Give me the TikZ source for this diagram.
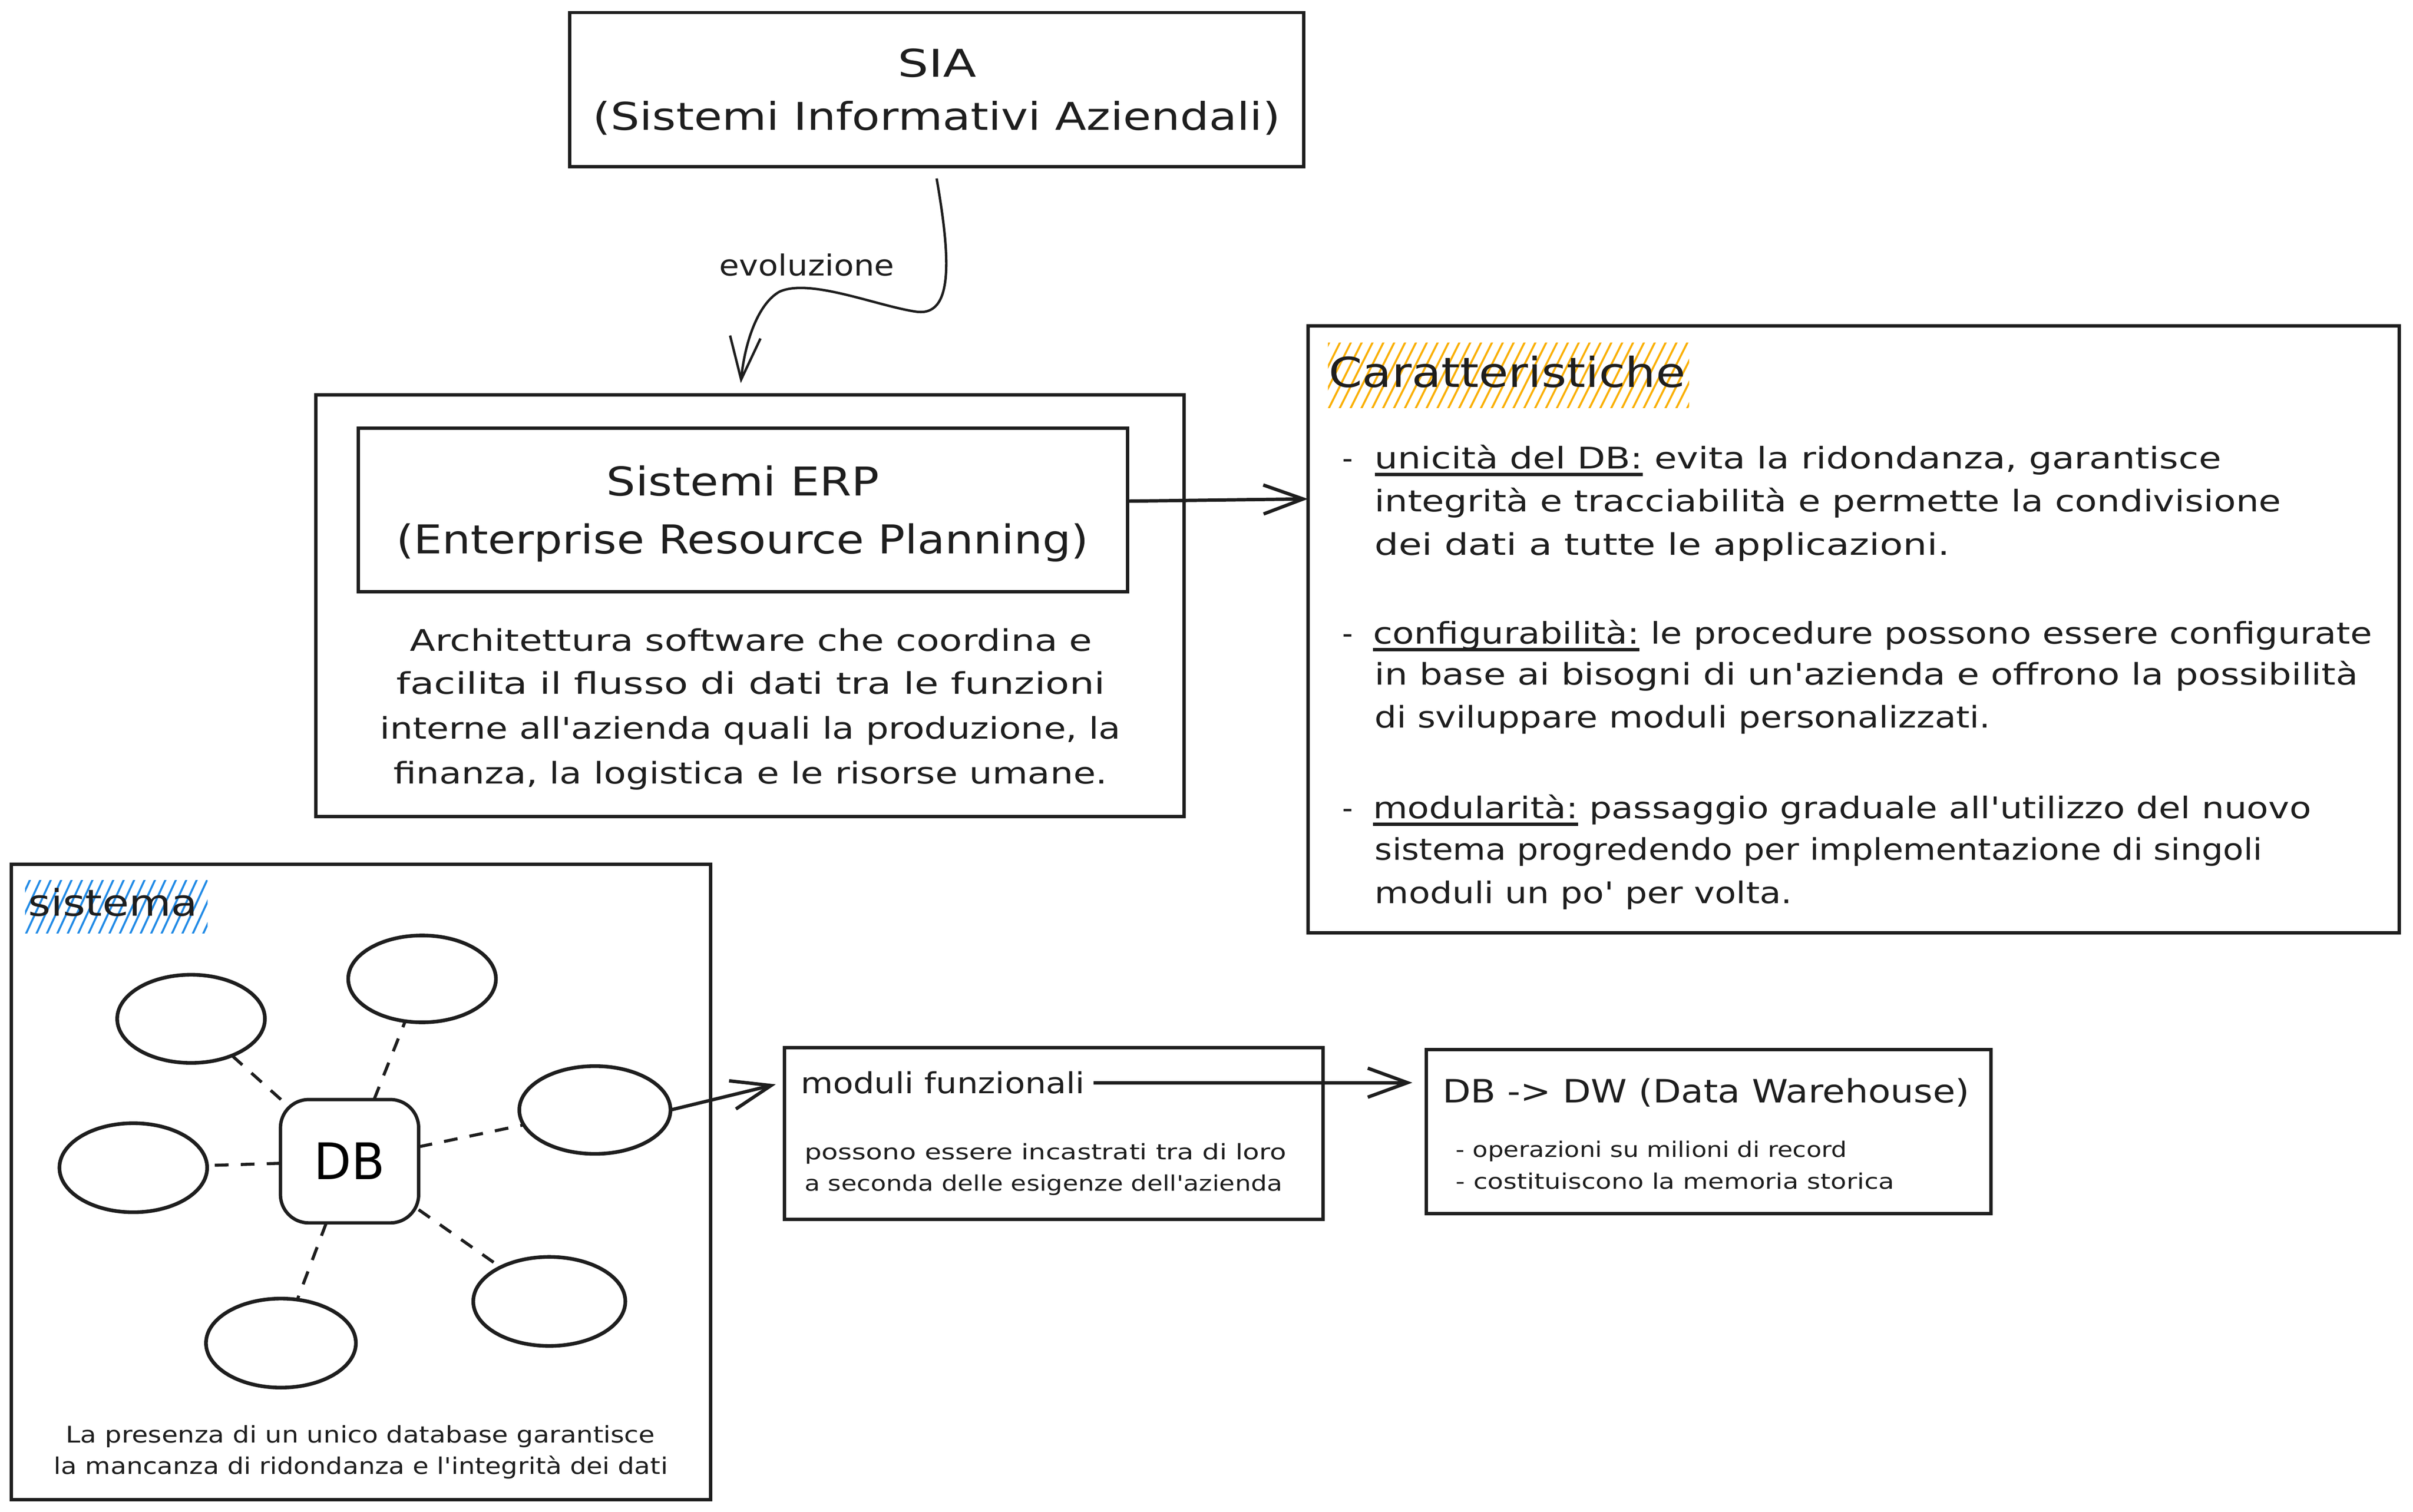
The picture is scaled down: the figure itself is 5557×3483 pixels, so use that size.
\documentclass[tikz,border=0pt]{standalone}
\usepackage{fontspec}
\setmainfont{DejaVu Sans}[Ligatures=TeXOff]
\usepackage{graphicx}
\usetikzlibrary{arrows.meta,shapes.geometric}
\definecolor{ink}{HTML}{1E1E1E}
\definecolor{hyel}{HTML}{FAB005}
\definecolor{hblue}{HTML}{228BE6}
\newsavebox\fitbox
\newsavebox\ulbox
\newdimen\fitdim
\newcommand\fitw[2]{\sbox\fitbox{#2}\fitdim=\wd\fitbox\edef\fitsc{\fpeval{#1*0.284527559/\fitdim}}\scalebox{\fitsc}[1]{\usebox\fitbox}}
\newcommand\myul[1]{\sbox\ulbox{#1}\rlap{\rule[-4.8pt]{\wd\ulbox}{2.2pt}}\usebox\ulbox}
\newcommand\fs[1]{\fontsize{#1}{#1}\selectfont}
\tikzset{
  box/.style={draw=ink, line width=2.2pt, rectangle, inner sep=0pt, outer sep=0pt},
  txt/.style={inner sep=0pt, outer sep=0pt, text=ink},
  arr/.style={draw=ink, line width=2.2pt, -{Straight Barb[length=26pt,width=19pt]}},
  carr/.style={draw=ink, line width=1.6pt, -{Straight Barb[length=28pt,width=20pt]}},
  oval/.style={draw=ink, line width=2.4pt, ellipse, inner sep=0pt, outer sep=0pt},
  dbbox/.style={draw=ink, line width=2.2pt, rectangle, rounded corners=0.65cm, inner sep=0pt, outer sep=0pt},
  dline/.style={draw=ink, line width=2pt, dash pattern=on 9pt off 8pt},
  hy/.style={draw=hyel, line width=1.3pt},
  hb/.style={draw=hblue, line width=1.3pt},
}
\begin{document}
\begin{tikzpicture}[x=0.01cm,y=-0.01cm]
\useasboundingbox (0,0) rectangle (5557,3483);
\fill[white] (0,0) rectangle (5557,3483);

% hachure highlights
\begin{scope}
\clip (3058,790) rectangle (3890,940);
\foreach \i in {-5,...,34} \draw[hy] (3058+\i*25,945) -- ++(80,-160);
\end{scope}
\begin{scope}
\clip (58,2028) rectangle (478,2150);
\foreach \i in {-5,...,18} \draw[hb] (58+\i*24,2155) -- ++(60,-130);
\end{scope}

% SIA
\node[box, minimum width=16.9cm, minimum height=3.55cm] (sia) at (2157,206.5) {};
\node[txt, font=\fs{25}, anchor=base] (sia1) at (2158,177) {\fitw{180}{SIA}};
\node[txt, font=\fs{25}, anchor=base] (sia2) at (2157,300) {\fitw{1582}{(Sistemi Informativi Aziendali)}};

% ERP
\node[box, minimum width=19.98cm, minimum height=9.71cm] (erp) at (1727,1395.5) {};
\node[box, minimum width=17.7cm, minimum height=3.77cm] (erpin) at (1711,1174.5) {};
\node[txt, font=\fs{26}, anchor=base] (erp1) at (1711,1142) {\fitw{628}{Sistemi ERP}};
\node[txt, font=\fs{26}, anchor=base] (erp2) at (1710,1275) {\fitw{1593}{(Enterprise Resource Planning)}};
\node[txt, font=\fs{19.5}, anchor=base] (erpd1) at (1730,1500) {\fitw{1570}{Architettura software che coordina e}};
\node[txt, font=\fs{19.5}, anchor=base] (erpd2) at (1729,1599) {\fitw{1631}{facilita il flusso di dati tra le funzioni}};
\node[txt, font=\fs{19.5}, anchor=base] (erpd3) at (1728,1702) {\fitw{1705}{interne all'azienda quali la produzione, la}};
\node[txt, font=\fs{19.5}, anchor=base] (erpd4) at (1728,1805) {\fitw{1643}{finanza, la logistica e le risorse umane.}};

% evoluzione arrow
\coordinate (sarr) at ([yshift=-0.27cm]sia.south);
\coordinate (earr) at ([xshift=-0.21cm,yshift=0.27cm]erp.north);
\draw[carr] (sarr) .. controls (2190,600) and (2195,730) .. (2110,718)
  .. controls (2020,705) and (1865,640) .. (1795,672)
  .. controls (1745,700) and (1715,790) .. (earr);
\node[txt, font=\fs{19}, anchor=base] (evo) at (1858,635) {\fitw{403}{evoluzione}};

% Caratteristiche
\node[box, minimum width=25.12cm, minimum height=13.97cm] (car) at (4269,1449.5) {};
\node[txt, font=\fs{27}, anchor=base west] (carh) at (3060,892) {\fitw{821}{Caratteristiche}};
\node[txt, font=\fs{19.5}, anchor=base west] (d1) at (3091,1080) {-};
\node[txt, font=\fs{19.5}, anchor=base west] (c1) at (3166,1080) {\fitw{1948}{\myul{unicità del DB:} evita la ridondanza, garantisce}};
\node[txt, font=\fs{19.5}, anchor=base west] (c2) at (3166,1179) {\fitw{2086}{integrità e tracciabilità e permette la condivisione}};
\node[txt, font=\fs{19.5}, anchor=base west] (c3) at (3166,1279) {\fitw{1323}{dei dati a tutte le applicazioni.}};
\node[txt, font=\fs{19.5}, anchor=base west] (d2) at (3091,1483) {-};
\node[txt, font=\fs{19.5}, anchor=base west] (c4) at (3162,1483) {\fitw{2300}{\myul{configurabilità:} le procedure possono essere configurate}};
\node[txt, font=\fs{19.5}, anchor=base west] (c5) at (3166,1578) {\fitw{2263}{in base ai bisogni di un'azienda e offrono la possibilità}};
\node[txt, font=\fs{19.5}, anchor=base west] (c6) at (3166,1677) {\fitw{1417}{di sviluppare moduli personalizzati.}};
\node[txt, font=\fs{19.5}, anchor=base west] (d3) at (3091,1886) {-};
\node[txt, font=\fs{19.5}, anchor=base west] (c7) at (3162,1886) {\fitw{2159}{\myul{modularità:} passaggio graduale all'utilizzo del nuovo}};
\node[txt, font=\fs{19.5}, anchor=base west] (c8) at (3166,1981) {\fitw{2043}{sistema progredendo per implementazione di singoli}};
\node[txt, font=\fs{19.5}, anchor=base west] (c9) at (3166,2081) {\fitw{961}{moduli un po' per volta.}};

\coordinate (carin) at ([yshift=3cm]car.west);
\draw[arr] ([yshift=0.2cm]erpin.east) -- (carin);

% sistema
\node[box, minimum width=16.09cm, minimum height=14.63cm] (sis) at (831.5,2722.5) {};
\node[txt, font=\fs{24}, anchor=base west] (sish) at (65,2110) {\fitw{390}{sistema}};
\node[dbbox, minimum width=3.18cm, minimum height=2.84cm, font=\fs{33}] (db) at (805,2675) {\fitw{163}{DB}};
\node[oval, minimum width=3.4cm, minimum height=2.03cm] (e1) at (440,2347) {};
\node[oval, minimum width=3.4cm, minimum height=2.0cm] (e2) at (972,2255) {};
\node[oval, minimum width=3.48cm, minimum height=2.02cm] (e3) at (1370,2557) {};
\node[oval, minimum width=3.4cm, minimum height=2.05cm] (e4) at (307,2690) {};
\node[oval, minimum width=3.5cm, minimum height=2.05cm] (e5) at (1265,2998) {};
\node[oval, minimum width=3.45cm, minimum height=2.05cm] (e6) at (647,3094) {};
\draw[dline] (db) -- (e1);
\draw[dline] (db) -- (e2);
\draw[dline] (db) -- (e3);
\draw[dline] (db) -- (e4);
\draw[dline] (db) -- (e5);
\draw[dline] (db) -- (e6);
\node[txt, font=\fs{15}, anchor=base] (cap1) at (830,3324) {\fitw{1356}{La presenza di un unico database garantisce}};
\node[txt, font=\fs{15}, anchor=base] (cap2) at (831,3396) {\fitw{1413}{la mancanza di ridondanza e l'integrità dei dati}};

% moduli funzionali
\node[box, minimum width=12.4cm, minimum height=3.96cm] (mod) at (2427,2611) {};
\node[txt, font=\fs{19}, anchor=base west] (modt) at (1844,2519) {\fitw{654}{moduli funzionali}};
\node[txt, font=\fs{14}, anchor=base west] (mods1) at (1853,2671) {\fitw{1109}{possono essere incastrati tra di loro}};
\node[txt, font=\fs{14}, anchor=base west] (mods2) at (1853,2743) {\fitw{1100}{a seconda delle esigenze dell'azienda}};
\coordinate (modin) at ([xshift=-0.2cm,yshift=1.13cm]mod.west);
\draw[arr] (e3.east) -- (modin);

% DW
\node[box, minimum width=13cm, minimum height=3.78cm] (dw) at (3935,2607) {};
\node[txt, font=\fs{21}, anchor=base west] (dwt) at (3322,2540) {\fitw{1213}{DB -> DW (Data Warehouse)}};
\node[txt, font=\fs{14}, anchor=base west] (dws1) at (3353,2666) {\fitw{900}{- operazioni su milioni di record}};
\node[txt, font=\fs{14}, anchor=base west] (dws2) at (3353,2739) {\fitw{1009}{- costituiscono la memoria storica}};
\coordinate (dwin) at ([xshift=-0.32cm]dw.west);
\draw[arr] ([xshift=0.2cm]modt.east) -- (dwin |- modt.east);
\end{tikzpicture}
\end{document}
